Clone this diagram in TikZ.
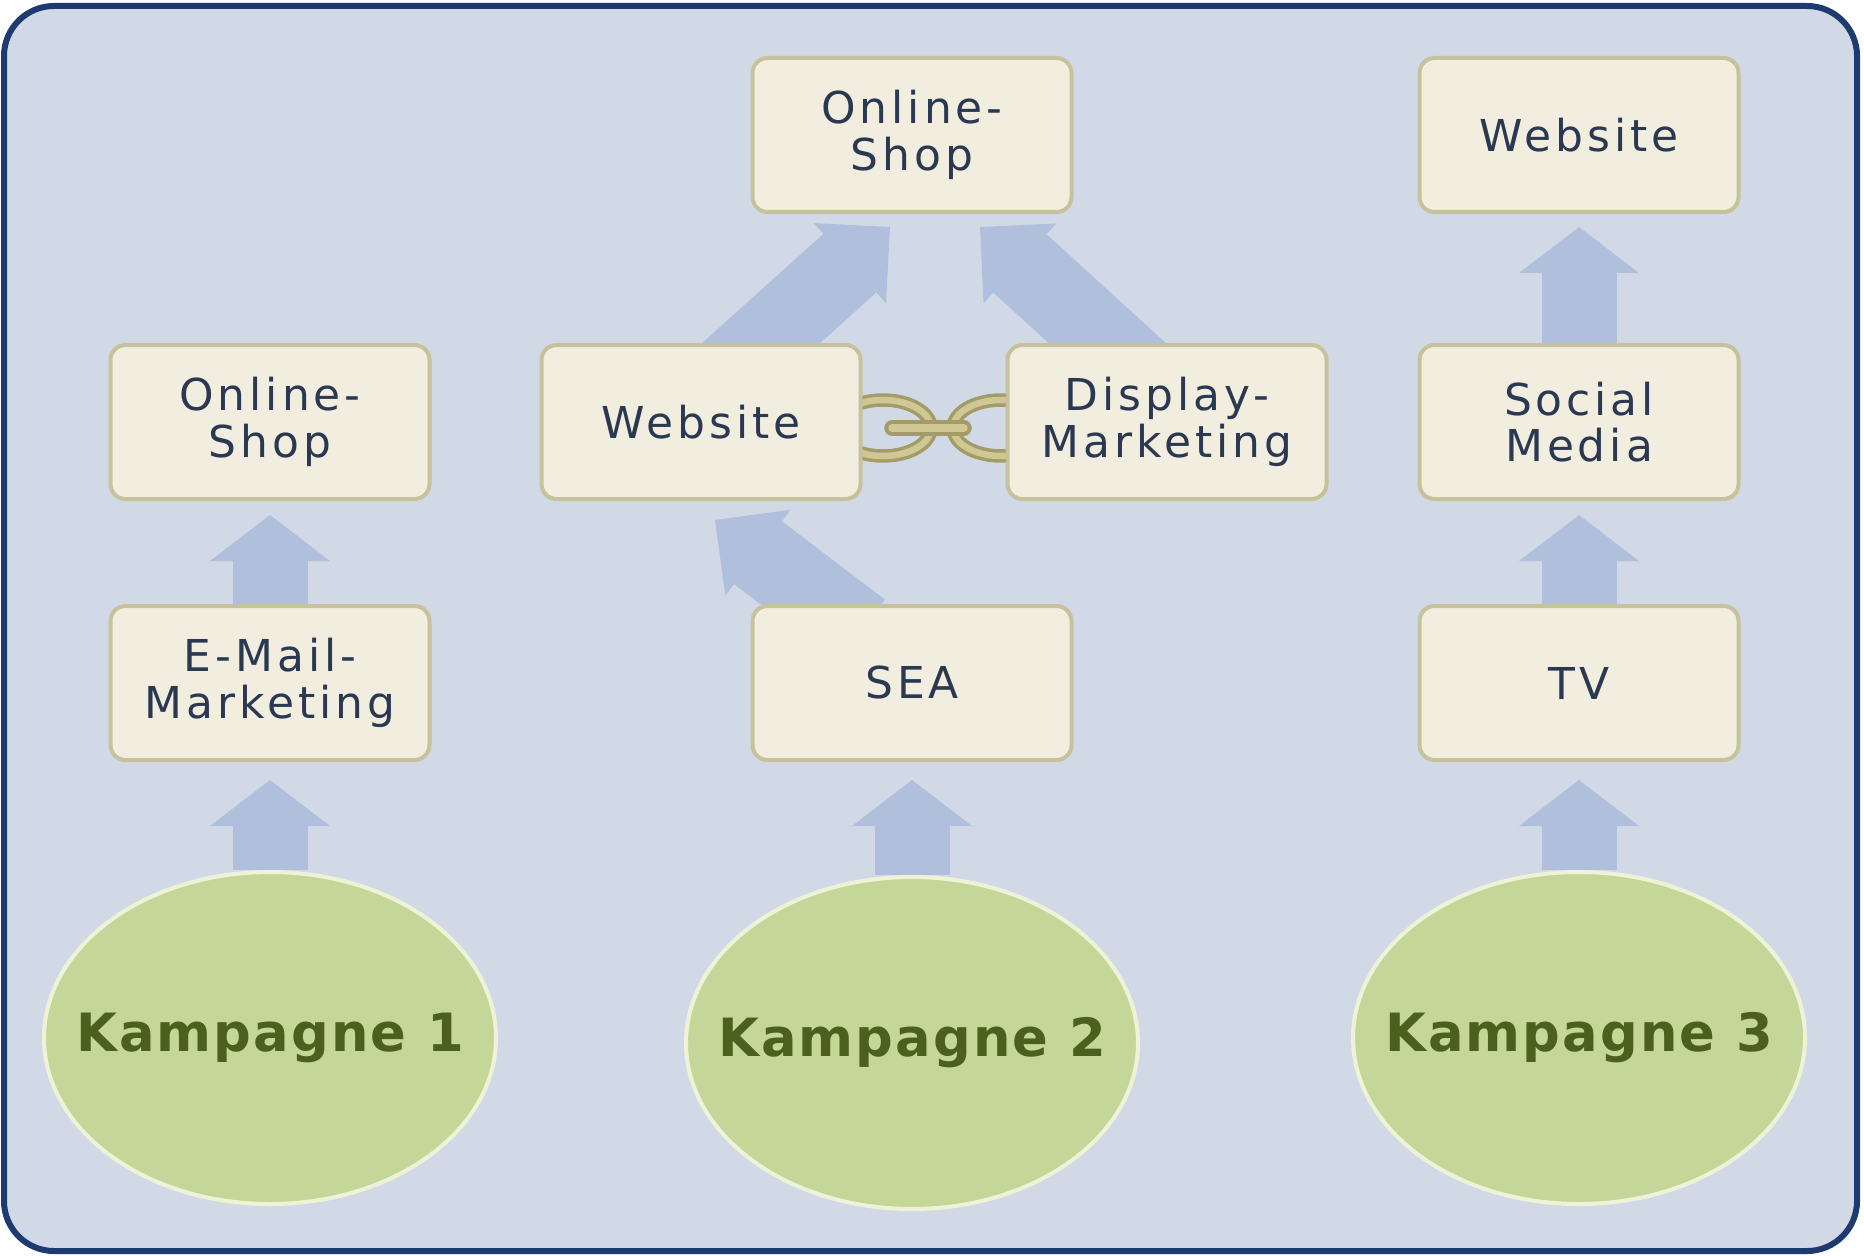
\documentclass[tikz,border=0pt]{standalone}
\usepackage{fontspec}
\setmainfont{DejaVu Sans}
\newfontfamily\boxfont[LetterSpace=9]{DejaVu Sans}
\newfontfamily\campfont[LetterSpace=4]{DejaVu Sans}
\usetikzlibrary{shapes.geometric,arrows.meta,calc}
\pgfdeclarelayer{back}
\pgfdeclarelayer{mid}
\pgfsetlayers{back,mid,main}
\definecolor{bgblue}{HTML}{D2D9E6}
\definecolor{framec}{HTML}{1D3B71}
\definecolor{boxfill}{HTML}{F2EEDF}
\definecolor{boxline}{HTML}{C6C29C}
\definecolor{boxtext}{HTML}{2B3852}
\definecolor{campfill}{HTML}{C5D699}
\definecolor{campline}{HTML}{EEF3D8}
\definecolor{camptext}{HTML}{4B5F1E}
\definecolor{arrowc}{HTML}{B0C0DC}
\definecolor{chainl}{HTML}{CFC894}
\definecolor{chaind}{HTML}{A39C68}

\begin{document}
\begin{tikzpicture}[x=0.1mm,y=-0.1mm,
    box/.style={draw=boxline,line width=0.4mm,fill=boxfill,rounded corners=1.5mm,
      minimum width=31.9mm,minimum height=15.4mm,inner sep=0pt,align=center,
      text=boxtext,font=\boxfont\fontsize{12.5}{13.3}\selectfont},
    camp/.style={ellipse,draw=campline,line width=0.4mm,fill=campfill,inner sep=0pt,
      minimum width=45.2mm,minimum height=33.2mm,text=camptext,
      font=\campfont\bfseries\fontsize{15}{18}\selectfont},
    up/.style={draw=arrowc,line width=7.5mm,-{Triangle[length=4.6mm,width=12mm,line width=0pt]}},
    slant/.style={draw=arrowc,line width=7.9mm,-{Triangle[length=5.4mm,width=10.8mm,line width=0pt]}},
    link/.style={draw=chaind,double=chainl,line width=0.35mm,double distance=0.65mm}]
  \useasboundingbox (0,0) rectangle (1864,1255);
  \begin{pgfonlayer}{back}
    \draw[framec,line width=0.6mm,fill=bgblue,rounded corners=5mm] (4,6) rectangle (1857,1251);
  \end{pgfonlayer}
  % Kampagne 1
  \node[box] (shopA) at (270,422) {Online-\\Shop};
  \node[box] (mailA) at (270,683) {E-Mail-\\Marketing};
  \node[camp] (kampA) at (270,1038) {\makebox[0pt]{Kampagne 1}};
  % Kampagne 2
  \node[box] (shopB) at (912,135) {Online-\\Shop};
  \node[box] (webB) at (701,422) {Website};
  \node[box] (dispB) at (1167,422) {Display-\\Marketing};
  \node[box] (seaB) at (912,683) {SEA};
  \node[camp] (kampB) at (912,1043) {\makebox[0pt]{Kampagne 2}};
  % Kampagne 3
  \node[box] (webC) at (1579,135) {Website};
  \node[box] (socC) at (1579,422) {Social\\Media};
  \node[box] (tvC) at (1579,683) {TV};
  \node[camp] (kampC) at (1579,1038) {\makebox[0pt]{Kampagne 3}};
  \begin{pgfonlayer}{mid}
    \draw[up] (kampA.north) -- ($(mailA.south)+(0,18)$);
    \draw[up] (mailA.north) -- ($(shopA.south)+(0,14)$);
    \draw[up] (kampB.north) -- ($(seaB.south)+(0,18)$);
    \draw[slant] ($(seaB.north)+(-51,27)$) -- ($(webB.south)+(14,19)$);
    \draw[slant] ($(webB.north)+(28,29)$) -- ($(shopB.south)+(-22,13)$);
    \draw[slant] ($(dispB.north)+(-28,29)$) -- ($(shopB.south)+(68,13)$);
    \draw[up] (kampC.north) -- ($(tvC.south)+(0,18)$);
    \draw[up] (tvC.north) -- ($(socC.south)+(0,14)$);
    \draw[up] (socC.north) -- ($(webC.south)+(0,13)$);
    % chain
    \draw[link] (883,428) ellipse [x radius=48,y radius=28];
    \draw[link] (1001,428) ellipse [x radius=48,y radius=28];
    \draw[link,line width=0.4mm,double distance=0.75mm,line cap=round] (892,428) -- (964,428);
  \end{pgfonlayer}
\end{tikzpicture}
\end{document}
